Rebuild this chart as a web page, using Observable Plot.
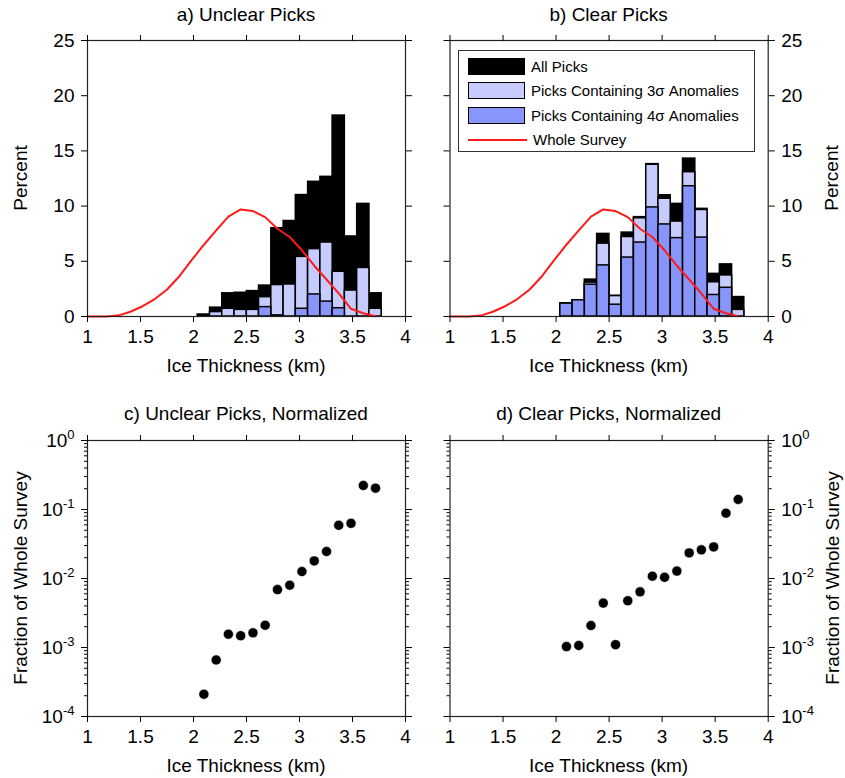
<!DOCTYPE html>
<html>
<head>
<meta charset="utf-8">
<script src="https://cdn.jsdelivr.net/npm/d3@7"></script>
<script src="https://cdn.jsdelivr.net/npm/@observablehq/plot@0.6"></script>
<style>
  html, body { margin: 0; padding: 0; background: #fff; }
  #wrap { position: relative; width: 845px; height: 778px; font-family: "Liberation Sans", Arial, sans-serif; color: #000; overflow: hidden; }
  .panel { position: absolute; }
  .lbl { position: absolute; white-space: nowrap; font-size: 19px; line-height: 22px; transform: translate(-50%, -50%); }
  .rot { transform: translate(-50%, -50%) rotate(-90deg); }
  #legend { position: absolute; left: 458px; top: 50px; width: 297px; height: 102px; border: 1px solid #333; background: #fff; box-sizing: border-box; font-size: 15px; }
  .row { position: absolute; left: 9px; height: 24px; display: flex; align-items: center; }
  .sw { width: 57px; height: 17px; border: 1.5px solid #000; margin-right: 6px; box-sizing: border-box; }
  .ln { width: 59px; height: 2px; background: #ff1a1a; margin-right: 6px; }
</style>
</head>
<body>
<div id="wrap"></div>
<script>
// ---- data ----
const thickness = [2.098, 2.214, 2.329, 2.445, 2.561, 2.676, 2.792, 2.908, 3.023, 3.139, 3.255, 3.370, 3.486, 3.602, 3.717];
const binWidth = 0.1157;

const unclearAll = [0.18, 0.8, 2.1, 2.15, 2.3, 2.8, 8.0, 8.65, 11.0, 12.2, 12.65, 18.2, 7.25, 10.2, 2.1];
const unclear3s  = [0, 0.4, 0.7, 0.6, 0.6, 1.75, 2.85, 2.9, 5.4, 6.1, 6.7, 4.05, 2.35, 4.4, 0.7];
const unclear4s  = [0, 0, 0, 0, 0, 0.85, 0.1, 0, 0.7, 2.0, 1.35, 0.75, 0, 0, 0];

const clearAll = [1.17, 1.47, 3.34, 7.48, 1.87, 7.6, 9.0, 13.8, 10.98, 10.2, 14.3, 9.75, 3.86, 4.72, 1.76];
const clear3s  = [1.17, 1.47, 3.07, 6.6, 1.85, 7.2, 8.9, 13.75, 10.67, 8.6, 13.07, 9.65, 3.1, 3.72, 0.6];
const clear4s  = [1.17, 1.47, 2.88, 4.63, 1.07, 5.34, 6.7, 9.88, 8.34, 7.1, 11.8, 7.15, 1.95, 2.6, 0];

const surveyThickness = [1.0, 1.057, 1.173, 1.288, 1.404, 1.520, 1.635, 1.751, 1.867, 1.982, 2.098, 2.214, 2.329, 2.445, 2.561, 2.676, 2.792, 2.908, 3.023, 3.139, 3.255, 3.370, 3.486, 3.602, 3.717];
const surveyPercent   = [0, 0, 0, 0.08, 0.43, 0.93, 1.58, 2.45, 3.65, 5.1, 6.5, 7.8, 9.05, 9.7, 9.55, 9.0, 7.95, 7.2, 6.0, 4.6, 3.35, 2.1, 0.7, 0.3, 0.03];

const unclearNorm = [2.1e-4, 6.6e-4, 1.56e-3, 1.48e-3, 1.63e-3, 2.1e-3, 6.9e-3, 8.0e-3, 1.26e-2, 1.8e-2, 2.46e-2, 5.9e-2, 6.3e-2, 0.223, 0.204];
const clearNorm   = [1.03e-3, 1.07e-3, 2.08e-3, 4.4e-3, 1.1e-3, 4.75e-3, 6.4e-3, 1.08e-2, 1.04e-2, 1.28e-2, 2.35e-2, 2.6e-2, 2.87e-2, 8.85e-2, 0.14];

const xTicks = [1, 1.5, 2, 2.5, 3, 3.5, 4];
const yTicksPct = [0, 5, 10, 15, 20, 25];
const yTicksLog = [1e-4, 1e-3, 1e-2, 1e-1, 1];
const yTickLogLabels = ["10^-4", "10^-3", "10^-2", "10^-1", "10^0"];

const panelTitles = ["a) Unclear Picks", "b) Clear Picks", "c) Unclear Picks, Normalized", "d) Clear Picks, Normalized"];
const xLabel = "Ice Thickness (km)";
const yLabelTop = "Percent";
const yLabelBottom = "Fraction of Whole Survey";
const legendLabels = ["All Picks", "Picks Containing 3σ Anomalies", "Picks Containing 4σ Anomalies", "Whole Survey"];

// ---- styling ----
const FONT = '"Liberation Sans", Arial, sans-serif';
const C_ALL = "#000000", C_3S = "#c7ccff", C_4S = "#8896fc", C_RED = "#ff1a1a";
const minorLog = [];
for (let e = -4; e < 0; e++) for (let m = 2; m <= 9; m++) minorLog.push(m * Math.pow(10, e));

const survey = surveyThickness.map((x, i) => ({x, p: surveyPercent[i]}));

const wrap = document.getElementById("wrap");

function place(node, left, top) {
  const div = document.createElement("div");
  div.className = "panel";
  div.style.left = left + "px";
  div.style.top = top + "px";
  div.appendChild(node);
  wrap.appendChild(div);
}

function axesCommon(labelSide, yTicks, yFmtLabel, minor) {
  const other = labelSide === "left" ? "right" : "left";
  const m = [
    Plot.frame({stroke: "#222", strokeWidth: 1.2}),
    Plot.axisX({anchor: "bottom", ticks: xTicks, tickSize: 6, tickPadding: 7, label: null, tickFormat: d => String(d), fontSize: 19}),
    Plot.axisX({anchor: "top", ticks: xTicks, tickSize: 6, label: null, tickFormat: () => ""}),
    Plot.axisY({anchor: labelSide, ticks: yTicks, tickSize: 6, tickPadding: 7, label: null, tickFormat: yFmtLabel, fontSize: 19}),
    Plot.axisY({anchor: other, ticks: yTicks, tickSize: 6, label: null, tickFormat: () => ""})
  ];
  if (minor) {
    m.push(Plot.axisY({anchor: labelSide, ticks: minor, tickSize: 3, label: null, tickFormat: () => ""}));
    m.push(Plot.axisY({anchor: other, ticks: minor, tickSize: 3, label: null, tickFormat: () => ""}));
  }
  return m;
}

function barPanel(all, s3, s4, labelSide, width, mL, mR) {
  const rows = thickness.map((x, i) => ({x, all: all[i], s3: s3[i], s4: s4[i]}));
  const x1 = d => d.x - binWidth / 2, x2 = d => d.x + binWidth / 2;
  return Plot.plot({
    width, height: 390,
    marginLeft: mL, marginRight: mR, marginTop: 40, marginBottom: 74,
    x: {domain: [1, 4]},
    y: {domain: [0, 25]},
    style: {fontFamily: FONT, fontSize: "19px", color: "#000", background: "transparent", overflow: "visible"},
    marks: [
      Plot.rect(rows.filter(d => d.all > 0), {x1, x2, y1: 0, y2: "all", fill: C_ALL, stroke: "#000", strokeWidth: 1.5}),
      Plot.rect(rows.filter(d => d.s3 > 0), {x1, x2, y1: 0, y2: "s3", fill: C_3S, stroke: "#000", strokeWidth: 1.5}),
      Plot.rect(rows.filter(d => d.s4 > 0), {x1, x2, y1: 0, y2: "s4", fill: C_4S, stroke: "#000", strokeWidth: 1.5}),
      Plot.line(survey, {x: "x", y: "p", stroke: C_RED, strokeWidth: 2}),
      ...axesCommon(labelSide, yTicksPct, d => String(d), null)
    ]
  });
}

function dotPanel(vals, labelSide, width, mL, mR) {
  const rows = thickness.map((x, i) => ({x, v: vals[i]}));
  const fmt = d => yTickLogLabels[yTicksLog.findIndex(t => Math.abs(Math.log10(t) - Math.log10(d)) < 1e-6)] ?? "";
  const svg = Plot.plot({
    width, height: 378,
    marginLeft: mL, marginRight: mR, marginTop: 40, marginBottom: 62,
    x: {domain: [1, 4]},
    y: {type: "log", domain: [1e-4, 1]},
    style: {fontFamily: FONT, fontSize: "19px", color: "#000", background: "transparent", overflow: "visible"},
    marks: [
      Plot.dot(rows, {x: "x", y: "v", r: 5, fill: "#000", stroke: "#fff", strokeWidth: 0.5}),
      ...axesCommon(labelSide, yTicksLog, fmt, minorLog)
    ]
  });
  // superscript exponents
  const ns = "http://www.w3.org/2000/svg";
  svg.querySelectorAll('[aria-label="y-axis tick label"] text').forEach(t => {
    const s = t.textContent;
    if (!s.includes("^")) return;
    const [b, e] = s.split("^");
    t.textContent = b;
    const ts = document.createElementNS(ns, "tspan");
    ts.setAttribute("dy", "-0.6em");
    ts.setAttribute("font-size", "13");
    ts.textContent = e;
    t.appendChild(ts);
  });
  return svg;
}

// frames: left panels x 87..405, right panels x 449.5..767.7
place(barPanel(unclearAll, unclear3s, unclear4s, "left", 425, 87, 20), 0, 0);
place(barPanel(clearAll, clear3s, clear4s, "right", 420, 24.5, 77.3), 425, 0);
place(dotPanel(unclearNorm, "left", 425, 87, 20), 0, 400);
place(dotPanel(clearNorm, "right", 420, 24.5, 77.3), 425, 400);

function label(text, cx, cy, rot) {
  const d = document.createElement("div");
  d.className = "lbl" + (rot ? " rot" : "");
  d.style.left = cx + "px";
  d.style.top = cy + "px";
  d.textContent = text;
  wrap.appendChild(d);
}
label(panelTitles[0], 246, 15);
label(panelTitles[1], 608.6, 15);
label(panelTitles[2], 246, 414);
label(panelTitles[3], 608.6, 414);
label(xLabel, 246, 366);
label(xLabel, 608.6, 366);
label(xLabel, 246, 766);
label(xLabel, 608.6, 766);
label(yLabelTop, 21, 178, true);
label(yLabelTop, 832, 178, true);
label(yLabelBottom, 21, 578, true);
label(yLabelBottom, 833, 578, true);

// legend
const lg = document.createElement("div");
lg.id = "legend";
const fills = [C_ALL, C_3S, C_4S, null];
legendLabels.forEach((txt, i) => {
  const r = document.createElement("div");
  r.className = "row";
  r.style.top = (3 + i * 24.5) + "px";
  const s = document.createElement("div");
  if (fills[i]) { s.className = "sw"; s.style.background = fills[i]; }
  else { s.className = "ln"; }
  r.appendChild(s);
  const t = document.createElement("span");
  t.textContent = txt;
  r.appendChild(t);
  lg.appendChild(r);
});
wrap.appendChild(lg);
</script>
</body>
</html>
